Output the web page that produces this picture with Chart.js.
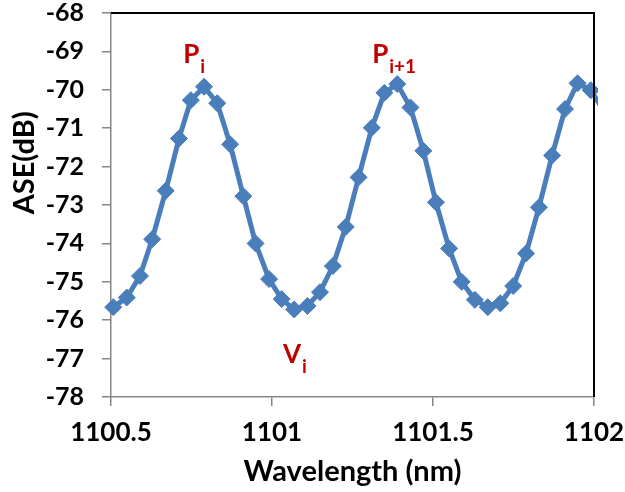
<!DOCTYPE html>
<html>
<head>
<meta charset="utf-8">
<script src="https://cdn.jsdelivr.net/npm/chart.js@4"></script>
<style>
html,body{margin:0;padding:0;background:#fff;}
#wrap{width:625px;height:492px;}
</style>
</head>
<body>
<div id="wrap"><canvas id="c" width="625" height="492"></canvas></div>
<script>
const wavelength = [1100.507,1100.549,1100.590,1100.628,1100.670,1100.711,1100.748,1100.789,1100.830,1100.870,
  1100.911,1100.949,1100.991,1101.030,1101.069,1101.110,1101.149,1101.189,1101.229,1101.269,
  1101.310,1101.349,1101.389,1101.430,1101.470,1101.509,1101.550,1101.589,1101.630,1101.670,
  1101.709,1101.749,1101.789,1101.829,1101.870,1101.910,1101.949,1101.990,1102.030];
const ase = [-75.66,-75.41,-74.85,-73.89,-72.63,-71.27,-70.27,-69.92,-70.35,-71.42,
  -72.77,-74.00,-74.93,-75.45,-75.72,-75.63,-75.27,-74.59,-73.57,-72.28,
  -70.99,-70.08,-69.85,-70.46,-71.59,-72.93,-74.13,-75.00,-75.47,-75.66,
  -75.56,-75.11,-74.26,-73.06,-71.71,-70.50,-69.83,-70.01,-70.55];
const xTicks = [1100.5, 1101, 1101.5, 1102];
const yTicks = [-78,-77,-76,-75,-74,-73,-72,-71,-70,-69,-68];
const xTitle = 'Wavelength (nm)';
const yTitle = 'ASE(dB)';
const labelMain = ['P', 'P', 'V'];
const labelSub = ['i', 'i+1', 'i'];
const labelX = [1100.724, 1101.311, 1101.034];
const labelY = [-69.30, -69.30, -77.11];

const FONT = 'Lato, "Open Sans", sans-serif';
const axisGray = '#868686';
const blue = '#4a7ebb';
const red = '#c00000';

const decor = {
  id: 'decor',
  afterDatasetsDraw(chart) {
    const ctx = chart.ctx, a = chart.chartArea;
    const xs = chart.scales.x, ys = chart.scales.y;
    ctx.save();
    ctx.strokeStyle = '#000';
    ctx.lineWidth = 2;
    ctx.beginPath();
    ctx.moveTo(a.left, a.top);
    ctx.lineTo(a.right, a.top);
    ctx.lineTo(a.right, a.bottom);
    ctx.stroke();
    ctx.fillStyle = red;
    ctx.textBaseline = 'alphabetic';
    ctx.textAlign = 'left';
    for (let i = 0; i < labelMain.length; i++) {
      const px = xs.getPixelForValue(labelX[i]);
      const py = ys.getPixelForValue(labelY[i]);
      ctx.font = 'bold 26px ' + FONT;
      ctx.fillText(labelMain[i], px, py);
      const w = ctx.measureText(labelMain[i]).width;
      ctx.font = 'bold 19px ' + FONT;
      ctx.fillText(labelSub[i], px + w + 1, py + 10);
    }
    ctx.fillStyle = '#000';
    ctx.font = 'bold 29px ' + FONT;
    ctx.textAlign = 'center';
    ctx.textBaseline = 'middle';
    ctx.translate(25, ys.getPixelForValue(-71.9));
    ctx.rotate(-Math.PI / 2);
    ctx.fillText(yTitle, 0, 0);
    ctx.restore();
  }
};

new Chart(document.getElementById('c'), {
  type: 'line',
  data: {
    datasets: [{
      data: wavelength.map((w, i) => ({x: w, y: ase[i]})),
      borderColor: blue,
      backgroundColor: blue,
      borderWidth: 5,
      pointStyle: 'rectRot',
      pointRadius: 8.5,
      pointBorderWidth: 1,
      pointBorderColor: blue,
      pointBackgroundColor: blue,
      tension: 0,
      clip: {left: 12, top: 12, right: 4, bottom: 12}
    }]
  },
  plugins: [decor],
  options: {
    responsive: false,
    animation: false,
    events: [],
    layout: {padding: {left: 0, right: 31, top: 13, bottom: 0}},
    plugins: {legend: {display: false}, tooltip: {enabled: false}, title: {display: false}},
    scales: {
      x: {
        type: 'linear',
        min: 1100.5, max: 1102,
        afterBuildTicks(s) { s.ticks = xTicks.map(v => ({value: v})); },
        afterFit(s) { s.height = 95; s.paddingLeft = 0; s.paddingRight = 0; },
        ticks: {
          color: '#000',
          font: {family: FONT, size: 26, weight: 'bold'},
          padding: 11,
          maxRotation: 0,
          callback: v => String(v)
        },
        grid: {display: true, drawOnChartArea: false, drawTicks: true, tickLength: 9, color: axisGray, lineWidth: 1.5},
        border: {display: true, color: axisGray, width: 1.5},
        title: {display: true, text: xTitle, color: '#000', font: {family: FONT, size: 29, weight: 'bold'}, padding: {top: 0, bottom: 3}}
      },
      y: {
        type: 'linear',
        min: -78, max: -68,
        afterBuildTicks(s) { s.ticks = yTicks.map(v => ({value: v})); },
        afterFit(s) { s.width = 111; s.paddingTop = 0; s.paddingBottom = 0; },
        ticks: {
          color: '#000',
          font: {family: FONT, size: 25, weight: 'bold'},
          padding: 18,
          callback: v => String(v)
        },
        grid: {display: true, drawOnChartArea: false, drawTicks: true, tickLength: 9, color: axisGray, lineWidth: 1.5},
        border: {display: true, color: axisGray, width: 1.5}
      }
    }
  }
});
</script>
</body>
</html>
